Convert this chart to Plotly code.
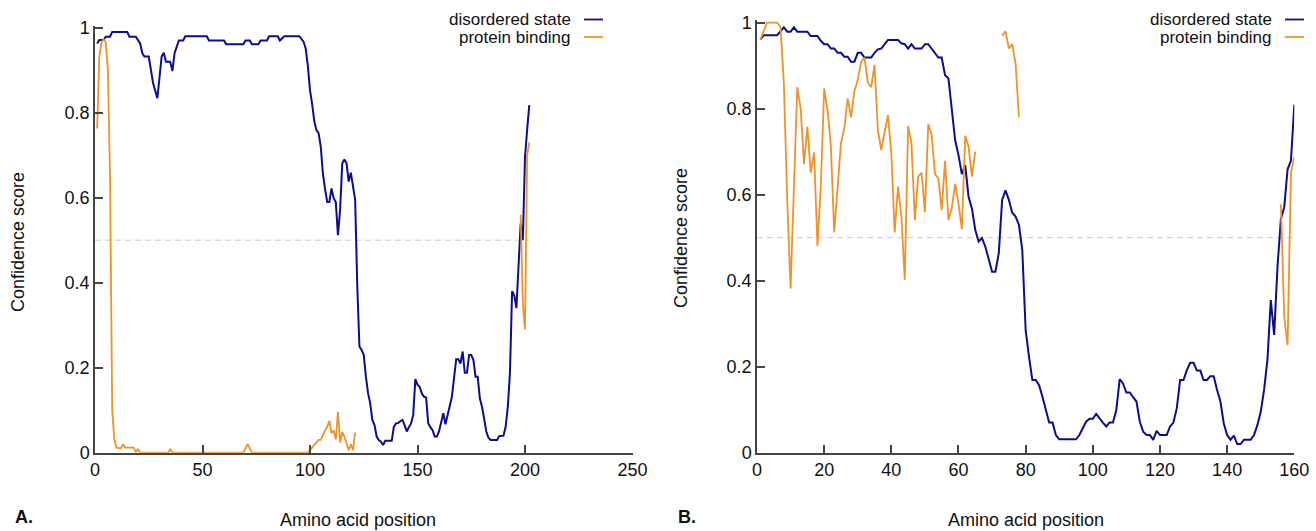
import plotly.graph_objects as go

# ---------------- data ----------------
# Panel A
a_dis_pos = [1, 2, 4, 5, 7, 8, 15, 16, 19, 21, 22, 23, 25, 26, 27, 29, 31, 32, 33, 35, 36, 37, 38, 39, 41, 42,
             52, 53, 60, 61, 69, 70, 72, 73, 76, 77, 80, 81, 85, 86, 88, 95, 97, 98, 99, 100, 101, 102, 103, 104,
             105, 106, 107, 108, 109, 110, 111, 112, 113, 114, 115, 116, 117, 118, 119, 120, 121, 122, 123, 124,
             125, 126, 127, 128, 129, 130, 131, 132, 133, 134, 135, 138, 139, 140, 141, 142, 143, 144, 145, 146,
             147, 148, 149, 150, 151, 152, 153, 154, 155, 156, 157, 158, 159, 160, 161, 162, 163, 164, 165, 166,
             167, 168, 169, 170, 171, 172, 173, 174, 175, 176, 177, 178, 179, 180, 181, 182, 183, 184, 187, 188,
             190, 191, 192, 193, 194, 195, 196, 197, 198, 199, 200, 201, 202]
a_dis_val = [0.963, 0.971, 0.971, 0.979, 0.979, 0.99, 0.99, 0.979, 0.979, 0.963, 0.94, 0.932, 0.932, 0.90, 0.87,
             0.834, 0.932, 0.941, 0.92, 0.92, 0.898, 0.94, 0.955, 0.97, 0.97, 0.98,
             0.98, 0.97, 0.97, 0.961, 0.961, 0.97, 0.97, 0.961, 0.961, 0.97, 0.97, 0.98, 0.98, 0.97, 0.98, 0.98,
             0.967, 0.951, 0.91, 0.853, 0.82, 0.78, 0.759, 0.752,
             0.72, 0.657, 0.62, 0.59, 0.59, 0.622, 0.599, 0.59, 0.512, 0.571, 0.681, 0.69, 0.681, 0.638, 0.659,
             0.63, 0.595, 0.39, 0.25, 0.242,
             0.23, 0.179, 0.14, 0.116, 0.077, 0.065, 0.038, 0.03, 0.026, 0.018, 0.028, 0.028, 0.061, 0.069, 0.07,
             0.074, 0.077, 0.065, 0.05, 0.06,
             0.069, 0.089, 0.173, 0.16, 0.155, 0.14, 0.132, 0.13, 0.069, 0.06, 0.053, 0.038, 0.038, 0.05, 0.07,
             0.093, 0.067, 0.093, 0.11, 0.132,
             0.18, 0.22, 0.22, 0.21, 0.238, 0.188, 0.188, 0.23, 0.23, 0.218, 0.179, 0.179, 0.128, 0.108, 0.08,
             0.05, 0.035, 0.03, 0.03, 0.039,
             0.04, 0.061, 0.108, 0.187, 0.38, 0.37, 0.34, 0.45, 0.54, 0.50, 0.696, 0.76, 0.818]

a_bind_pos = [1, 2, 3, 4, 5, 6, 7, 8, 9, 10, 12, 13, 14, 18, 19, 20, 21, 34, 35, 36, 69, 70, 71, 72, 73, 99,
              100, 101, 102, 103, 104, 105, 106, 107, 108, 109, 110, 111, 112, 113, 114, 115, 116, 117, 118, 119,
              120, 121, None, 198, 199, 200, 201, 202]
a_bind_val = [0.763, 0.932, 0.965, 0.973, 0.965, 0.90, 0.65, 0.10, 0.03, 0.012, 0.01, 0.02, 0.012, 0.012, 0.002,
              0.008, 0, 0, 0.008, 0, 0, 0.012, 0.02, 0.01, 0, 0,
              0.006, 0.014, 0.02, 0.025, 0.03, 0.03, 0.042, 0.052, 0.061, 0.075, 0.046, 0.053, 0.031, 0.096, 0.024,
              0.049, 0.038, 0.022, 0.006, 0.02,
              0.006, 0.047, None, 0.56, 0.35, 0.29, 0.70, 0.73]

# Panel B
b_dis_pos = [1, 2, 6, 7, 8, 9, 10, 11, 12, 15, 16, 18, 19, 20, 21, 22, 23, 24, 25, 26, 27, 28, 29, 30, 31, 32,
             34, 35, 36, 37, 38, 39, 42, 43, 44, 45, 46, 47, 49, 50, 51, 52, 53, 54, 55, 56, 57, 58, 59, 60, 61,
             62, 63, 64, 65, 66, 67, 68, 69, 70, 71, 72, 73, 74, 75, 76, 77, 78, 79, 80, 81, 82, 83, 84, 85, 86,
             87, 88, 89, 90, 95, 96, 97, 98, 99, 100, 101, 102, 103, 104, 105, 106, 107, 108, 109, 110, 111, 112,
             113, 114, 115, 116, 117, 118, 119, 120, 122, 123, 124, 125, 126, 127, 128, 129, 130, 131, 132, 133,
             134, 135, 136, 137, 138, 139, 140, 141, 142, 143, 144, 145, 147, 148, 149, 150, 151, 152, 153, 154,
             155, 156, 157, 158, 159, 160]
b_dis_val = [0.961, 0.971, 0.971, 0.979, 0.989, 0.979, 0.979, 0.989, 0.979, 0.979, 0.969, 0.969, 0.958, 0.95,
             0.95, 0.94, 0.94, 0.93, 0.93, 0.921, 0.921, 0.909, 0.909, 0.93, 0.93, 0.919,
             0.919, 0.93, 0.938, 0.94, 0.95, 0.96, 0.96, 0.952, 0.95, 0.94, 0.95, 0.94, 0.94, 0.95, 0.95, 0.94,
             0.929, 0.919, 0.919, 0.878, 0.871, 0.805, 0.727, 0.692, 0.648,
             0.669, 0.595, 0.568, 0.518, 0.491, 0.499, 0.479, 0.45, 0.421, 0.421, 0.464, 0.588, 0.61, 0.588, 0.558,
             0.549, 0.53, 0.471, 0.285, 0.223, 0.169, 0.169, 0.157, 0.13, 0.099,
             0.07, 0.07, 0.041, 0.031, 0.031, 0.041, 0.057, 0.072, 0.079, 0.079, 0.09, 0.079, 0.07, 0.061, 0.07,
             0.07, 0.099, 0.171, 0.161, 0.14, 0.14, 0.129,
             0.119, 0.072, 0.049, 0.041, 0.041, 0.03, 0.051, 0.041, 0.041, 0.061, 0.07, 0.103, 0.169, 0.169, 0.192,
             0.209, 0.209, 0.191, 0.191, 0.169,
             0.169, 0.178, 0.178, 0.146, 0.119, 0.068, 0.041, 0.03, 0.04, 0.02, 0.02, 0.03, 0.03, 0.041, 0.064,
             0.095, 0.146, 0.216, 0.355, 0.274,
             0.433, 0.543, 0.571, 0.659, 0.679, 0.809]

b_bind_pos = list(range(1, 66)) + [None] + [73, 74, 75, 76, 77, 78] + [None] + [156, 157, 158, 159, 160]
b_bind_val = [0.961, 0.983, 1.0, 1.0, 1.0, 1.0, 0.99, 0.859, 0.588, 0.382,
              0.619, 0.85, 0.801, 0.671, 0.758, 0.651, 0.698, 0.481, 0.619, 0.847,
              0.797, 0.712, 0.512, 0.626, 0.72, 0.754, 0.824, 0.78, 0.84, 0.867,
              0.909, 0.919, 0.861, 0.85, 0.902, 0.75, 0.704, 0.746, 0.785, 0.696,
              0.512, 0.619, 0.549, 0.402, 0.76, 0.72, 0.541, 0.642, 0.651, 0.56,
              0.764, 0.739, 0.648, 0.638, 0.564, 0.679, 0.541, 0.568, 0.625, 0.58,
              0.52, 0.737, 0.712, 0.642, 0.70] + [None] + [0.97, 0.98, 0.94, 0.95, 0.905, 0.78] + [None] + \
             [0.578, 0.316, 0.25, 0.65, 0.688]

threshold = 0.5
a_xticks = [0, 50, 100, 150, 200, 250]
b_xticks = [0, 20, 40, 60, 80, 100, 120, 140, 160]
y_ticks = [0, 0.2, 0.4, 0.6, 0.8, 1]
series_names = ["disordered state", "protein binding"]
panel_labels = ["A.", "B."]

# ---------------- styling ----------------
W, H = 1316, 531
BLUE = "#0c0c8c"
ORANGE = "#ef9229"
AXIS = "#444444"
FONT = "Liberation Sans, Arial, Helvetica, sans-serif"


def px_x(p):
    return p / W


def px_y(p):
    return 1 - p / H


fig = go.Figure()

panels = [
    dict(xa="x", ya="y", dis=(a_dis_pos, a_dis_val), bind=(a_bind_pos, a_bind_val)),
    dict(xa="x2", ya="y2", dis=(b_dis_pos, b_dis_val), bind=(b_bind_pos, b_bind_val)),
]
for pn in panels:
    xmax = max(p for p in pn["dis"][0] if p is not None)
    fig.add_trace(go.Scatter(x=[0, xmax], y=[threshold, threshold], mode="lines",
                             line=dict(color="#cccccc", width=1, dash="6px,4px"),
                             xaxis=pn["xa"], yaxis=pn["ya"], showlegend=False, hoverinfo="skip"))
    fig.add_trace(go.Scatter(x=pn["dis"][0], y=pn["dis"][1], mode="lines", name=series_names[0],
                             line=dict(color=BLUE, width=2), xaxis=pn["xa"], yaxis=pn["ya"],
                             showlegend=False))
    fig.add_trace(go.Scatter(x=pn["bind"][0], y=pn["bind"][1], mode="lines", name=series_names[1],
                             line=dict(color=ORANGE, width=1.8), connectgaps=False,
                             xaxis=pn["xa"], yaxis=pn["ya"], showlegend=False))

axis_common = dict(showline=True, linecolor=AXIS, linewidth=1.5, ticks="inside", ticklen=8,
                   tickwidth=1.5, tickcolor=AXIS, showgrid=False, zeroline=False, automargin=False,
                   tickfont=dict(family=FONT, size=18, color="#111111"))

bottom = px_y(452.7)
fig.update_layout(
    width=W, height=H, margin=dict(l=0, r=0, t=0, b=0, autoexpand=False),
    paper_bgcolor="white", plot_bgcolor="white", showlegend=False,
    xaxis=dict(domain=[px_x(95), px_x(632.5)], range=[0, 250], tickvals=a_xticks, anchor="y",
               **axis_common),
    yaxis=dict(domain=[bottom, px_y(452.7 - 425 * 1.004)], range=[0, 1.004], tickvals=y_ticks, anchor="x",
               **axis_common),
    xaxis2=dict(domain=[px_x(757), px_x(1294.3)], range=[0, 160], tickvals=b_xticks, anchor="y2",
                **axis_common),
    yaxis2=dict(domain=[bottom, px_y(452.7 - 430 * 1.006)], range=[0, 1.006], tickvals=y_ticks, anchor="x2",
                **axis_common),
)

ann = []
shapes = []
# axis titles and panel labels
for xc_title, xc_ylab, yc_ylab in [(358, 18, 242), (1026, 681, 238)]:
    ann.append(dict(text="Amino acid position", x=px_x(xc_title), y=px_y(520), xref="paper", yref="paper",
                    showarrow=False, xanchor="center", yanchor="middle",
                    font=dict(family=FONT, size=18, color="#111111")))
    ann.append(dict(text="Confidence score", x=px_x(xc_ylab), y=px_y(yc_ylab), xref="paper", yref="paper",
                    showarrow=False, xanchor="center", yanchor="middle", textangle=-90,
                    font=dict(family=FONT, size=18, color="#111111")))
for lab, xl in zip(panel_labels, [13, 676]):
    ann.append(dict(text="<b>%s</b>" % lab, x=px_x(xl), y=px_y(517), xref="paper", yref="paper",
                    showarrow=False, xanchor="left", yanchor="middle",
                    font=dict(family=FONT, size=18, color="#111111")))
# legends (text on the left, key on the right)
for text_right, key0 in [(572, 584), (1273, 1285)]:
    for i, (name, col) in enumerate(zip(series_names, [BLUE, ORANGE])):
        yc = 19.5 + i * 17.5
        ann.append(dict(text=name, x=px_x(text_right), y=px_y(yc), xref="paper", yref="paper",
                        showarrow=False, xanchor="right", yanchor="middle", borderpad=0,
                        font=dict(family=FONT, size=17, color="#111111")))
        shapes.append(dict(type="line", xref="paper", yref="paper", x0=px_x(key0), x1=px_x(key0 + 19),
                           y0=px_y(yc), y1=px_y(yc), line=dict(color=col, width=1.8)))
fig.update_layout(annotations=ann, shapes=shapes)

fig.write_html("out.html", config={"displayModeBar": False},
               post_script="document.body.style.margin='0';document.body.style.overflow='hidden';")
